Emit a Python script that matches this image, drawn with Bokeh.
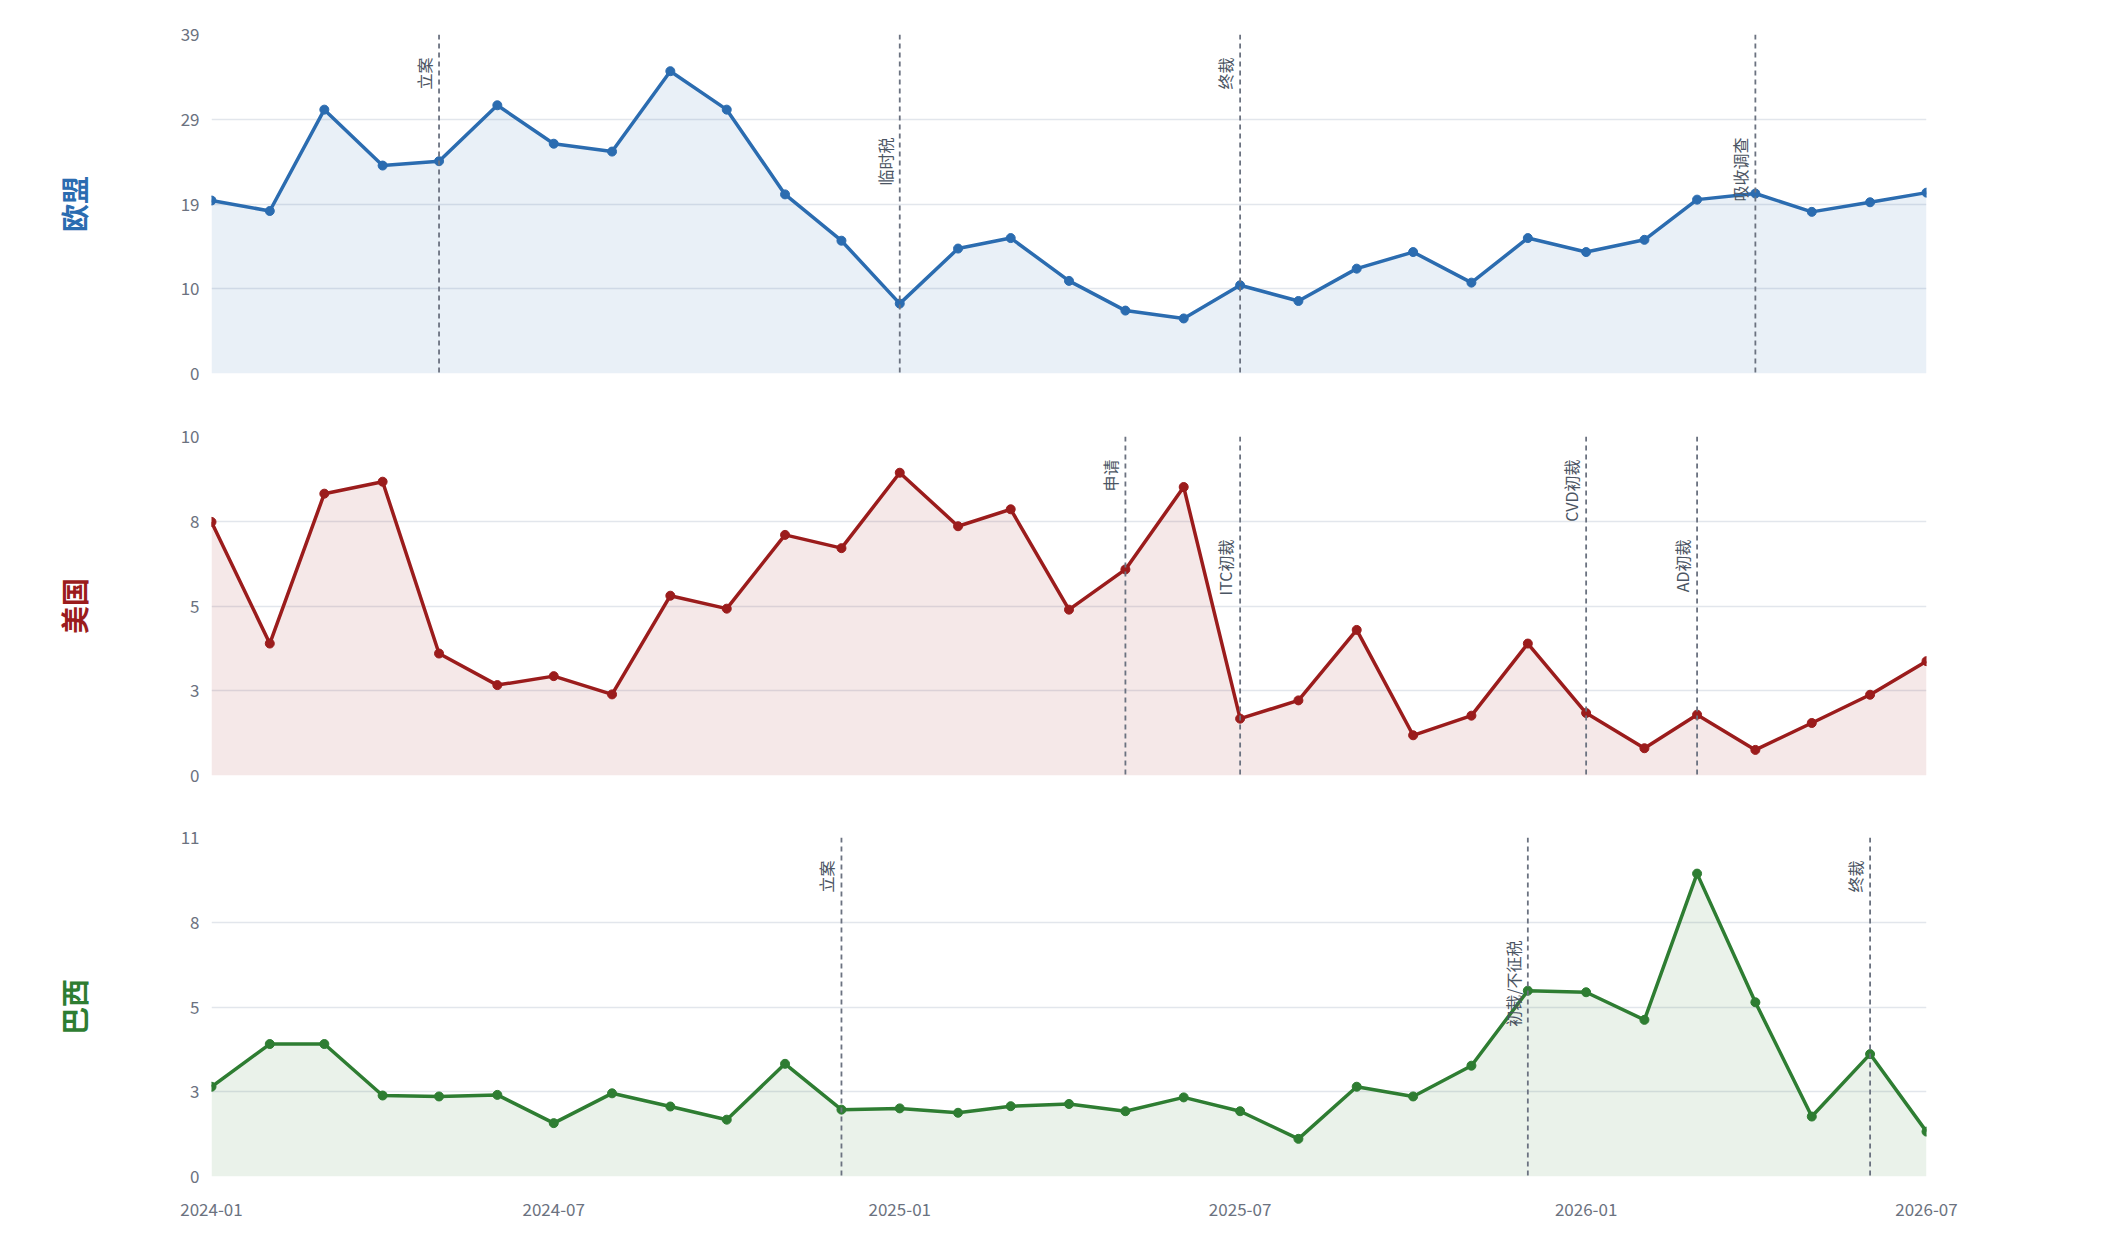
import pandas as pd
from math import pi
from bokeh.plotting import figure
from bokeh.layouts import column
from bokeh.models import Range1d, FixedTicker, CustomJSTickFormatter, Span, Label
from bokeh.embed import file_html
from bokeh.resources import INLINE

# ---------------- data ----------------
months = pd.date_range("2024-01-01", periods=31, freq="MS")

eu_values = [19.8, 18.6, 30.2, 23.8, 24.3, 30.7, 26.3, 25.4, 34.6, 30.2, 20.5,
             15.2, 8.0, 14.3, 15.5, 10.6, 7.2, 6.3, 10.1, 8.3, 12.0, 13.9, 10.4,
             15.5, 13.9, 15.3, 19.9, 20.6, 18.5, 19.6, 20.7]
us_values = [7.63, 3.97, 8.48, 8.84, 3.67, 2.72, 2.99, 2.44, 5.41, 5.02, 7.24,
             6.84, 9.11, 7.5, 8.01, 4.99, 6.2, 8.68, 1.71, 2.26, 4.38, 1.21, 1.8,
             3.97, 1.88, 0.82, 1.83, 0.77, 1.58, 2.43, 3.44]
br_values = [2.86, 4.22, 4.22, 2.58, 2.55, 2.6, 1.7, 2.65, 2.23, 1.81, 3.59,
             2.13, 2.17, 2.03, 2.24, 2.31, 2.08, 2.52, 2.08, 1.2, 2.86, 2.55, 3.53,
             5.92, 5.87, 4.99, 9.65, 5.55, 1.91, 3.9, 1.43]

panel_names = ["欧盟", "美国", "巴西"]

eu_ymax = 38.8
us_ymax = 10.2
br_ymax = 10.8
eu_yticks = [0, 9.7, 19.4, 29.1, 38.8]
us_yticks = [0, 2.55, 5.1, 7.65, 10.2]
br_yticks = [0, 2.7, 5.4, 8.1, 10.8]
eu_ytick_labels = ["0", "10", "19", "29", "39"]
us_ytick_labels = ["0", "3", "5", "8", "10"]
br_ytick_labels = ["0", "3", "5", "8", "11"]

xtick_dates = ["2024-01-01", "2024-07-01", "2025-01-01", "2025-07-01", "2026-01-01", "2026-07-01"]
xtick_labels = ["2024-01", "2024-07", "2025-01", "2025-07", "2026-01", "2026-07"]

eu_event_dates = ["2024-05-01", "2025-01-01", "2025-07-01", "2026-04-01"]
eu_event_labels = ["立案", "临时税", "终裁", "吸收调查"]
eu_event_tiers = ["high", "low", "high", "low"]
us_event_dates = ["2025-05-01", "2025-07-01", "2026-01-01", "2026-03-01"]
us_event_labels = ["申请", "ITC初裁", "CVD初裁", "AD初裁"]
us_event_tiers = ["high", "low", "high", "low"]
br_event_dates = ["2024-12-01", "2025-12-01", "2026-06-01"]
br_event_labels = ["立案", "初裁/不征税", "终裁"]
br_event_tiers = ["high", "low", "high"]

# ---------------- style ----------------
FONT = "Noto Sans CJK SC"
EU_C = "#2b6cb0"
US_C = "#9b1c1c"
BR_C = "#2e7d32"
GRID_C = "#e2e6ec"
TICK_C = "#6b7280"
EVENT_LINE_C = "#6b7280"
EVENT_TEXT_C = "#4b5563"
FRAME_W = 1715
FRAME_H = 339
TIER_OFFSET = {"high": 23, "low": 103}

EPOCH = pd.Timestamp("1970-01-01")


def to_ms(d):
    return (pd.Timestamp(d) - EPOCH).total_seconds() * 1000.0


x_range = Range1d(start=to_ms(months[0]), end=to_ms(months[-1]))

LOOKUP_CODE = """
for (let i = 0; i < tv.length; i++) {
    if (Math.abs(tv[i] - tick) < tol) { return tl[i]; }
}
return '';
"""


def make_panel(name, vals, color, ymax, yticks, ylabels, ev_dates, ev_labels, ev_tiers,
               border_top, border_bottom, show_x):
    p = figure(title=None, x_axis_type="datetime", x_range=x_range,
               y_range=Range1d(0, ymax), frame_width=FRAME_W, frame_height=FRAME_H,
               min_border_left=211, min_border_right=160,
               min_border_top=border_top, min_border_bottom=border_bottom,
               output_backend="svg", toolbar_location=None)
    p.outline_line_color = None
    p.background_fill_color = "white"
    p.border_fill_color = "white"
    p.xgrid.grid_line_color = None
    p.ygrid.ticker = FixedTicker(ticks=yticks)
    p.ygrid.grid_line_color = GRID_C
    p.ygrid.grid_line_width = 1.5

    yax = p.yaxis[0]
    yax.ticker = FixedTicker(ticks=yticks)
    yax.formatter = CustomJSTickFormatter(
        args=dict(tv=yticks, tl=ylabels, tol=1e-6), code=LOOKUP_CODE)
    yax.axis_line_color = None
    yax.major_tick_line_color = None
    yax.minor_tick_line_color = None
    yax.major_tick_out = 0
    yax.major_label_standoff = 12
    yax.major_label_text_font = FONT
    yax.major_label_text_font_size = "17px"
    yax.major_label_text_color = TICK_C
    yax.axis_label = name
    yax.axis_label_text_font = FONT
    yax.axis_label_text_font_size = "28px"
    yax.axis_label_text_font_style = "bold"
    yax.axis_label_text_color = color
    yax.axis_label_standoff = 84

    xax = p.xaxis[0]
    if show_x:
        xt = [to_ms(d) for d in xtick_dates]
        xax.ticker = FixedTicker(ticks=xt)
        xax.formatter = CustomJSTickFormatter(
            args=dict(tv=xt, tl=xtick_labels, tol=1.0), code=LOOKUP_CODE)
        xax.axis_line_color = None
        xax.major_tick_line_color = None
        xax.minor_tick_line_color = None
        xax.major_tick_out = 0
        xax.major_label_standoff = 26
        xax.major_label_text_font = FONT
        xax.major_label_text_font_size = "17px"
        xax.major_label_text_color = TICK_C
    else:
        xax.visible = False

    p.varea(x=months, y1=0, y2=vals, fill_color=color, fill_alpha=0.1)
    p.line(months, vals, line_color=color, line_width=3.5)
    p.scatter(months, vals, size=9, fill_color=color, line_color=color)

    for d, txt, tier in zip(ev_dates, ev_labels, ev_tiers):
        xm = to_ms(d)
        p.add_layout(Span(location=xm, dimension="height", line_color=EVENT_LINE_C,
                          line_width=1.8, line_dash="5 4"))
        ylab = ymax * (1 - TIER_OFFSET[tier] / FRAME_H)
        p.add_layout(Label(x=xm, y=ylab, text=txt, angle=pi / 2, text_align="right",
                           text_baseline="bottom", x_offset=-3, text_font=FONT,
                           text_font_size="16px", text_color=EVENT_TEXT_C))
    return p


p1 = make_panel(panel_names[0], eu_values, EU_C, eu_ymax, eu_yticks, eu_ytick_labels,
                eu_event_dates, eu_event_labels, eu_event_tiers, 34, 31, False)
p2 = make_panel(panel_names[1], us_values, US_C, us_ymax, us_yticks, us_ytick_labels,
                us_event_dates, us_event_labels, us_event_tiers, 32, 31, False)
p3 = make_panel(panel_names[2], br_values, BR_C, br_ymax, br_yticks, br_ytick_labels,
                br_event_dates, br_event_labels, br_event_tiers, 31, 50, True)

layout = column(p1, p2, p3)
open("out.html", "w").write(file_html(layout, INLINE))
